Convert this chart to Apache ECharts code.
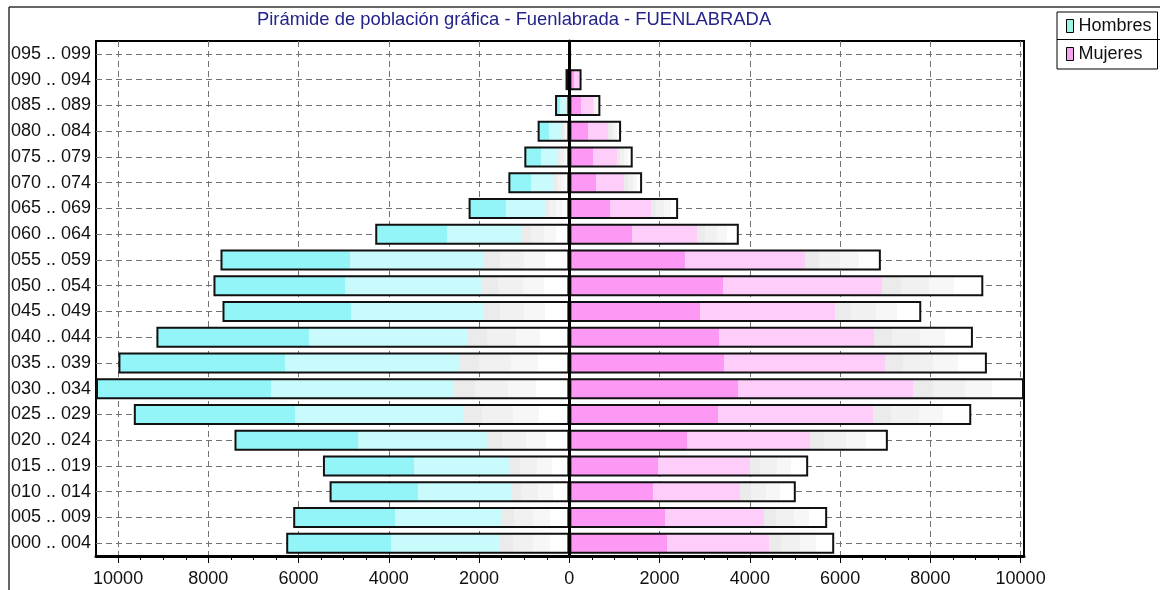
<!DOCTYPE html>
<html>
<head>
<meta charset="utf-8">
<script src="https://cdn.jsdelivr.net/npm/echarts@6/dist/echarts.min.js"></script>
<style>
html,body{margin:0;padding:0;background:#fff;}
#chart{width:1160px;height:590px;}
</style>
</head>
<body>
<div id="chart"></div>
<script>
// Age groups, bottom to top
const categories = ['000 .. 004','005 .. 009','010 .. 014','015 .. 019','020 .. 024','025 .. 029','030 .. 034','035 .. 039','040 .. 044','045 .. 049','050 .. 054','055 .. 059','060 .. 064','065 .. 069','070 .. 074','075 .. 079','080 .. 084','085 .. 089','090 .. 094','095 .. 099'];
const hombres = [6275, 6120, 5314, 5461, 7421, 9652, 10490, 9993, 9151, 7687, 7887, 7731, 4302, 2233, 1352, 998, 703, 317, 85, 15];
const mujeres = [5869, 5713, 5018, 5292, 7058, 8906, 10075, 9253, 8943, 7798, 9173, 6903, 3755, 2410, 1612, 1404, 1146, 687, 270, 30];
const xTickValues = [-10000, -8000, -6000, -4000, -2000, 0, 2000, 4000, 6000, 8000, 10000];
const xMinorTickValues = [];
for (let v = -10000; v <= 10000; v += 500) xMinorTickValues.push(v);
const xMin = -10490, xMax = 10075;
const titleText = 'Pirámide de población gráfica - Fuenlabrada - FUENLABRADA';

const FONT = 'Liberation Sans, Arial, sans-serif';

function grad(c1, c2) {
  return new echarts.graphic.LinearGradient(0, 0, 1, 0, [
    {offset: 0, color: c1}, {offset: 0.37, color: c1},
    {offset: 0.37, color: c2}, {offset: 0.755, color: c2},
    {offset: 0.755, color: '#ebebeb'}, {offset: 0.80, color: '#ebebeb'},
    {offset: 0.80, color: '#f1f1f1'}, {offset: 0.87, color: '#f1f1f1'},
    {offset: 0.87, color: '#f7f7f7'}, {offset: 0.93, color: '#f7f7f7'},
    {offset: 0.93, color: '#ffffff'}, {offset: 1, color: '#ffffff'}
  ]);
}

const chart = echarts.init(document.getElementById('chart'), null, {renderer: 'canvas'});
chart.setOption({
  animation: false,
  backgroundColor: '#ffffff',
  title: {
    text: titleText,
    left: 257, top: 11, padding: 0,
    textStyle: {fontFamily: FONT, fontSize: 18.4, fontWeight: 'normal', color: '#23238a'}
  },
  legend: {
    orient: 'vertical',
    left: 1057, top: 12,
    padding: [5, 6, 6, 9],
    itemGap: 10,
    itemWidth: 7, itemHeight: 13,
    borderColor: '#000', borderWidth: 1,
    backgroundColor: '#fff',
    icon: 'rect',
    textStyle: {fontFamily: FONT, fontSize: 18, color: '#111'},
    data: [
      {name: 'Hombres', itemStyle: {color: '#9ff3e3', borderColor: '#000', borderWidth: 1}},
      {name: 'Mujeres', itemStyle: {color: '#f4a3ee', borderColor: '#000', borderWidth: 1}}
    ]
  },
  grid: {
    left: 96, right: 136, top: 41, bottom: 34,
    show: true, borderColor: '#000', borderWidth: 2, backgroundColor: 'transparent'
  },
  xAxis: [{
    type: 'value', min: xMin, max: xMax,
    axisLine: {show: true, onZero: false, lineStyle: {color: '#000', width: 3}},
    axisTick: {show: true, customValues: xTickValues, length: 7, lineStyle: {color: '#000', width: 1}},
    axisLabel: {customValues: xTickValues, formatter: v => String(Math.abs(v)), fontFamily: FONT, fontSize: 18, color: '#111', margin: 14},
    splitLine: {show: true, lineStyle: {color: '#737373', width: 1, type: [6, 4]}}
  }, {
    type: 'value', min: xMin, max: xMax, position: 'bottom',
    axisLine: {show: false},
    axisTick: {show: true, customValues: xMinorTickValues, length: 4, lineStyle: {color: '#000', width: 1}},
    axisLabel: {show: false},
    splitLine: {show: false}
  }],
  yAxis: {
    type: 'category', data: categories,
    axisLine: {show: true, lineStyle: {color: '#000', width: 3}},
    axisTick: {show: false},
    axisLabel: {fontFamily: FONT, fontSize: 18, color: '#111', margin: 5},
    splitLine: {show: false}
  },
  series: [{
    name: 'Hombres', type: 'bar', xAxisIndex: 0,
    data: hombres.map(v => -v),
    barWidth: 21, barGap: '-100%',
    itemStyle: {color: grad('#93f5f8', '#c9fbfd'), borderColor: '#111', borderWidth: 2},
    markLine: {
      silent: true, symbol: 'none', z: 1, label: {show: false},
      lineStyle: {color: '#737373', width: 1, type: [6, 4]},
      data: categories.map(c => ({yAxis: c}))
    }
  }, {
    name: 'Mujeres', type: 'bar', xAxisIndex: 0,
    data: mujeres,
    barWidth: 21, barGap: '-100%',
    itemStyle: {color: grad('#fd99f5', '#ffcdfa'), borderColor: '#111', borderWidth: 2},
    markLine: {
      silent: true, symbol: 'none', z: 10, label: {show: false},
      lineStyle: {color: '#000', width: 3, type: 'solid'},
      data: [{xAxis: 0}]
    }
  }],
  graphic: [
    {type: 'line', z: 100, shape: {x1: 9, y1: 7, x2: 1160, y2: 7}, style: {stroke: '#333', lineWidth: 1.5}},
    {type: 'line', z: 100, shape: {x1: 9, y1: 7, x2: 9, y2: 590}, style: {stroke: '#333', lineWidth: 1.5}},
    {type: 'line', z: 100, shape: {x1: 1057, y1: 39.5, x2: 1160, y2: 39.5}, style: {stroke: '#000', lineWidth: 1}}
  ]
});
</script>
</body>
</html>
